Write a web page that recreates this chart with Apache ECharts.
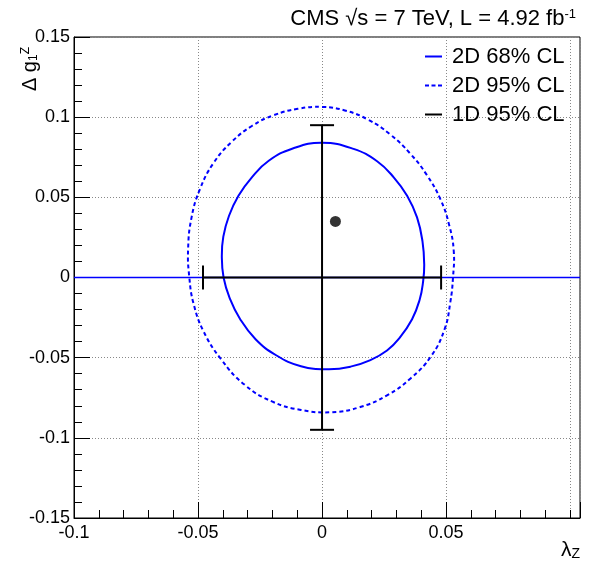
<!DOCTYPE html>
<html>
<head>
<meta charset="utf-8">
<script src="https://cdn.jsdelivr.net/npm/echarts@6/dist/echarts.min.js"></script>
<style>html,body{margin:0;padding:0;background:#fff;}#c{width:590px;height:564px;}</style>
</head>
<body>
<div id="c"></div>
<script>
// ---- data ----
const xTicks = [-0.1, -0.05, 0, 0.05, 0.1];
const yTicks = [-0.15, -0.1, -0.05, 0, 0.05, 0.1, 0.15];
const xRange = [-0.1, 0.104];
const yRange = [-0.15, 0.15];

// 2D 68% CL contour (lambda_Z, Delta g1Z), closed curve
const contour68 = [
  [0, 0.0841], [0.0127, 0.0802], [0.0222, 0.0725], [0.0289, 0.0625], [0.0343, 0.051],
  [0.0383, 0.0375], [0.0405, 0.0225], [0.0412, 0.008], [0.0407, -0.003], [0.0394, -0.0136],
  [0.0363, -0.026], [0.0312, -0.0378], [0.0262, -0.0455], [0.0195, -0.0515], [0.0115, -0.0556],
  [0.0025, -0.0572], [-0.0085, -0.0553], [-0.0185, -0.0485], [-0.0268, -0.0385], [-0.033, -0.026],
  [-0.0372, -0.013], [-0.0397, 0], [-0.0404, 0.0135], [-0.0398, 0.0255], [-0.0375, 0.0385],
  [-0.0337, 0.051], [-0.0283, 0.0625], [-0.0215, 0.0728], [-0.0118, 0.0805]
];
// 2D 95% CL contour, closed curve
const contour95 = [
  [0, 0.1064], [0.0092, 0.1042], [0.0185, 0.0985], [0.0275, 0.0892], [0.0356, 0.0772],
  [0.0423, 0.0638], [0.0477, 0.0489], [0.0513, 0.0325], [0.0531, 0.0165], [0.0528, 0],
  [0.0517, -0.0156], [0.0494, -0.0323], [0.0440, -0.0490], [0.0358, -0.0628], [0.0262, -0.0735],
  [0.0154, -0.0808], [0.004, -0.0840], [-0.0085, -0.0826], [-0.0202, -0.0773], [-0.0313, -0.0668],
  [-0.0408, -0.0508], [-0.0478, -0.0335], [-0.0518, -0.0163], [-0.0535, 0], [-0.054, 0.0177],
  [-0.0526, 0.0375], [-0.0492, 0.0552], [-0.0437, 0.0715], [-0.0365, 0.0845], [-0.0283, 0.0945],
  [-0.0195, 0.1012], [-0.0098, 0.1052]
];
// horizontal line along Delta g1Z = 0 drawn with the 2D contour
const zeroLine = [[-0.1, 0], [0.104, 0]];
// 1D 95% CL intervals
const lambdaInterval = [-0.048, 0.048];
const dg1Interval = [-0.095, 0.095];
// best-fit point
const bestFit = [0.0054, 0.035];

const legendNames = ['2D 68% CL', '2D 95% CL', '1D 95% CL'];
const titleText = 'CMS √s = 7 TeV, L = 4.92 fb{sup|-1}';

// ---- chart ----
const FONT = 'Liberation Sans, Arial, Helvetica, sans-serif';
const BLUE = '#0000ff';
const chart = echarts.init(document.getElementById('c'), null, {renderer: 'canvas'});

const hBar = [[lambdaInterval[0], 0], [lambdaInterval[1], 0]];
const vBar = [[0, dg1Interval[0]], [0, dg1Interval[1]]];
const caps = [
  [lambdaInterval[0], 0, 0], [lambdaInterval[1], 0, 0],
  [0, dg1Interval[0], 1], [0, dg1Interval[1], 1]
];

function renderCap(params, api) {
  const p = api.coord([api.value(0), api.value(1)]);
  const h = 12;
  const horiz = api.value(2) === 1;
  return {
    type: 'line',
    shape: horiz ? {x1: p[0] - h, y1: p[1], x2: p[0] + h, y2: p[1]}
                 : {x1: p[0], y1: p[1] - h, x2: p[0], y2: p[1] + h},
    style: {stroke: '#000', lineWidth: 2}
  };
}

function contourRenderer(dash) {
  return function (params, api) {
    if (params.dataIndexInside !== 0) return null;
    const pts = [];
    for (let i = 0; i < params.dataInsideLength; i++) {
      pts.push(api.coord([api.value(0, i), api.value(1, i)]));
    }
    return {
      type: 'polygon',
      shape: {points: pts, smooth: 0.45},
      style: {fill: 'none', stroke: BLUE, lineWidth: 2, lineDash: dash}
    };
  };
}

const solidIcon = 'path://M0,0H17V2H0Z';
const dashIcon = 'path://M0,0H4V2H0Z M6.5,0H10.5V2H6.5Z M13,0H17V2H13Z';

const gridLine = {show: true, lineStyle: {color: '#888', type: [1, 2], width: 1}};

const option = {
  animation: false,
  backgroundColor: '#fff',
  textStyle: {fontFamily: FONT},
  title: {
    text: titleText,
    right: 9, top: 3,
    textStyle: {
      fontFamily: FONT, fontSize: 22, fontWeight: 'normal', color: '#000',
      rich: {sup: {fontFamily: FONT, fontSize: 13, verticalAlign: 'top', color: '#000', padding: [0, 0, 8, 0]}}
    }
  },
  legend: {
    data: [
      {name: legendNames[0], icon: solidIcon, itemStyle: {color: BLUE}},
      {name: legendNames[1], icon: dashIcon, itemStyle: {color: BLUE}},
      {name: legendNames[2], icon: solidIcon, itemStyle: {color: '#000'}}
    ],
    orient: 'vertical',
    left: 425, top: 42,
    padding: 0,
    itemGap: 0,
    itemWidth: 17,
    itemHeight: 2,
    textStyle: {fontFamily: FONT, fontSize: 22, color: '#000', lineHeight: 29, padding: [0, 0, 0, 5]},
    selectedMode: false
  },
  grid: {
    left: 74, right: 10, top: 37, bottom: 46,
    outerBoundsMode: 'none',
    show: true, borderColor: '#000', borderWidth: 1
  },
  xAxis: [{
    type: 'value', position: 'bottom',
    min: xRange[0], max: xRange[1], interval: 0.05,
    name: 'λ{sub|Z}',
    nameLocation: 'end', nameGap: 0, nameMoveOverlap: false,
    nameTextStyle: {
      fontFamily: FONT, fontSize: 21, color: '#000', align: 'right', verticalAlign: 'top',
      padding: [22, 0, 0, 0],
      rich: {sub: {fontFamily: FONT, fontSize: 14, color: '#000', verticalAlign: 'bottom', padding: [6, 0, 0, 0]}}
    },
    axisLine: {show: true, onZero: false, lineStyle: {color: '#000', width: 1}},
    axisTick: {show: true, inside: true, length: 16, lineStyle: {color: '#000', width: 1}},
    axisLabel: {
      show: true, margin: 6, fontFamily: FONT, fontSize: 18, color: '#000',
      showMaxLabel: false, showMinLabel: true,
      customValues: xTicks
    },
    splitLine: gridLine
  }, {
    type: 'value', position: 'bottom',
    min: xRange[0], max: xRange[1], interval: 0.01,
    axisLine: {show: false, onZero: false},
    axisTick: {show: true, inside: true, length: 8, lineStyle: {color: '#000', width: 1}},
    axisLabel: {show: false},
    splitLine: {show: false}
  }],
  yAxis: {
    type: 'value',
    min: yRange[0], max: yRange[1], interval: 0.05,
    name: 'Δ g{sub|1}{sup|Z}',
    nameLocation: 'end', nameRotate: 90, nameGap: -10, nameMoveOverlap: false,
    nameTextStyle: {
      fontFamily: FONT, fontSize: 20, color: '#000', align: 'right', verticalAlign: 'bottom',
      padding: [0, 0, 34, 0],
      rich: {
        sub: {fontFamily: FONT, fontSize: 12, color: '#000', verticalAlign: 'bottom'},
        sup: {fontFamily: FONT, fontSize: 12, color: '#000', verticalAlign: 'top'}
      }
    },
    axisLine: {show: true, onZero: false, lineStyle: {color: '#000', width: 1}},
    axisTick: {show: true, inside: true, length: 16, lineStyle: {color: '#000', width: 1}},
    minorTick: {show: true, splitNumber: 5, length: 8, lineStyle: {color: '#000', width: 1}},
    axisLabel: {
      show: true, margin: 4, fontFamily: FONT, fontSize: 18, color: '#000',
      customValues: yTicks
    },
    splitLine: gridLine
  },
  series: [
    {
      name: legendNames[0], type: 'custom', renderItem: contourRenderer(null),
      data: contour68, color: BLUE, z: 3, silent: true
    },
    {
      name: legendNames[1], type: 'custom', renderItem: contourRenderer([4, 3]),
      data: contour95, color: BLUE, z: 3, silent: true
    },
    {
      name: 'zero', type: 'line', data: zeroLine, symbol: 'none', showSymbol: false,
      color: BLUE, lineStyle: {color: BLUE, width: 1.3, opacity: 1}, silent: true, z: 3
    },
    {
      name: legendNames[2], type: 'line', data: hBar, symbol: 'none', showSymbol: false,
      color: '#000', lineStyle: {color: '#000', width: 2}, z: 4
    },
    {
      name: legendNames[2], type: 'line', data: vBar, symbol: 'none', showSymbol: false,
      color: '#000', lineStyle: {color: '#000', width: 2}, z: 4
    },
    {
      name: legendNames[2], type: 'custom', renderItem: renderCap, data: caps,
      color: '#000', z: 4
    },
    {
      name: 'best fit', type: 'scatter', data: [bestFit], symbol: 'circle', symbolSize: 11,
      itemStyle: {color: '#000'}, z: 5
    }
  ]
};
chart.setOption(option);
</script>
</body>
</html>
